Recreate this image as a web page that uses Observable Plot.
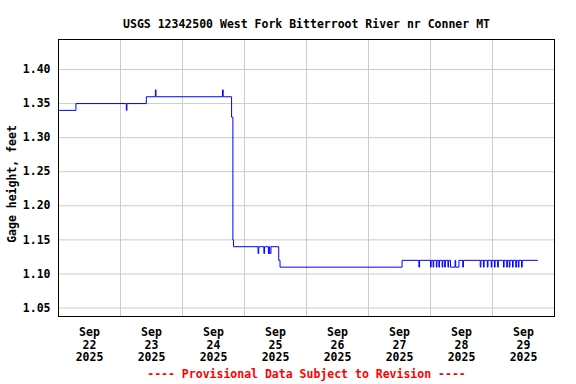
<!DOCTYPE html>
<html><head><meta charset="utf-8">
<script src="https://cdn.jsdelivr.net/npm/d3@7"></script>
<script src="https://cdn.jsdelivr.net/npm/@observablehq/plot@0.6"></script>
<style>body{margin:0;background:#fff} svg{display:block}</style>
</head><body><div id="chart"></div>
<script>
const title = "USGS 12342500 West Fork Bitterroot River nr Conner MT";
const yLabel = "Gage height, feet";
const note = "---- Provisional Data Subject to Revision ----";
const startUTC = Date.UTC(2025, 8, 22);
// hours since Sep 22 00:00 at which the gage height changed, and the new value
const hours = [0, 6.75, 26.25, 26.5, 34.0, 37.5, 37.75, 63.5, 63.75, 67.0, 67.5, 67.75,
  77.25, 77.5, 79.5, 79.75, 81.25, 81.5, 81.75, 82.25, 85.25, 85.75,
  133.0, 139.5, 139.75, 144.0, 144.25, 145.0, 145.25, 146.25, 146.5, 147.25, 147.5,
  148.5, 148.75, 149.5, 149.75, 150.75, 151.0, 151.75, 153.5, 153.75, 155.0, 156.5, 156.75,
  163.25, 163.5, 164.5, 164.75, 166.0, 166.25, 167.5, 167.75, 168.75, 169.0, 170.0, 170.25,
  172.25, 172.5, 173.5, 173.75, 174.5, 174.75, 175.75, 176.0, 177.0, 177.25, 178.0, 178.25,
  179.25, 179.5, 185.5];
const stage = [1.34, 1.35, 1.34, 1.35, 1.36, 1.37, 1.36, 1.37, 1.36, 1.33, 1.15, 1.14,
  1.13, 1.14, 1.13, 1.14, 1.13, 1.14, 1.13, 1.14, 1.12, 1.11,
  1.12, 1.11, 1.12, 1.11, 1.12, 1.11, 1.12, 1.11, 1.12, 1.11, 1.12,
  1.11, 1.12, 1.11, 1.12, 1.11, 1.12, 1.11, 1.12, 1.11, 1.12, 1.11, 1.12,
  1.11, 1.12, 1.11, 1.12, 1.11, 1.12, 1.11, 1.12, 1.11, 1.12, 1.11, 1.12,
  1.11, 1.12, 1.11, 1.12, 1.11, 1.12, 1.11, 1.12, 1.11, 1.12, 1.11, 1.12,
  1.11, 1.12, 1.12];
const yTicks = [1.05, 1.10, 1.15, 1.20, 1.25, 1.30, 1.35, 1.40];
const monthLabel = "Sep";
const yearLabel = "2025";
const dayLabels = ["22", "23", "24", "25", "26", "27", "28", "29"];

const H = 3600e3;
const rows = hours.map((h, i) => ({t: new Date(startUTC + h * H), v: stage[i]}));
const midnights = d3.range(0, 9).map(d => new Date(startUTC + d * 24 * H));
const noons = dayLabels.map((_, i) => new Date(startUTC + (i * 24 + 12) * H));
const labelOf = new Map(noons.map((d, i) => [+d, `${monthLabel}\n${dayLabels[i]}\n${yearLabel}`]));

const chart = Plot.plot({
  width: 576, height: 384,
  marginTop: 39, marginBottom: 68, marginLeft: 58, marginRight: 22,
  style: {fontFamily: "'DejaVu Sans Mono', monospace", fontSize: "11.5px", fontWeight: "bold", background: "#fff", color: "#000"},
  x: {type: "utc", domain: [midnights[0], midnights[8]]},
  y: {domain: [1.0376, 1.444]},
  marks: [
    Plot.gridX(midnights, {stroke: "#cccccc", strokeOpacity: 1, strokeWidth: 1}),
    Plot.gridY(yTicks, {stroke: "#cccccc", strokeOpacity: 1, strokeWidth: 1}),
    Plot.line(rows, {x: "t", y: "v", curve: "step-after", stroke: "#0000ff", strokeWidth: 1}),
    Plot.frame({stroke: "#000", strokeWidth: 1}),
    Plot.axisY(yTicks, {tickSize: 0, tickPadding: 8, tickFormat: d => d.toFixed(2), label: null}),
    Plot.axisX(noons, {tickSize: 0, tickPadding: 10, tickFormat: d => labelOf.get(+d), label: null, lineHeight: 1.12}),
    Plot.text([title], {frameAnchor: "top", dy: -19.5, text: d => d, fill: "#000"}),
    Plot.text([yLabel], {frameAnchor: "left", textAnchor: "middle", dx: -46, dy: 6, rotate: -90, text: d => d, fill: "#000"}),
    Plot.text([note], {frameAnchor: "bottom", dy: 61, text: d => d, fill: "#ff0000"})
  ]
});
document.getElementById("chart").appendChild(chart);
</script>
</body></html>
